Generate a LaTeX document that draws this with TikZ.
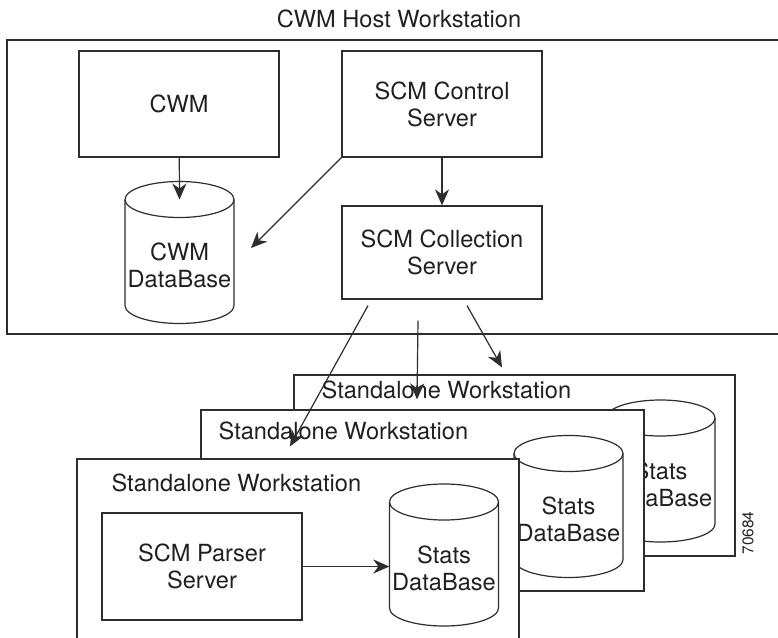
\documentclass[tikz,border=0pt]{standalone}
\usepackage{fontspec}
\setmainfont{TeX Gyre Heros}
\usepackage{tikz}
\usetikzlibrary{calc,arrows.meta,positioning}
\definecolor{hostLine}{RGB}{45,45,45}
\definecolor{hostText}{RGB}{35,31,32}

% stats / cwm database drum: name, x, y, label
\newcommand{\dbdrum}[4]{%
  \filldraw[boxline,fill=white] (#2-54.5,#3+53) -- (#2-54.5,#3-53)
    arc[start angle=180,end angle=360,x radius=54.5,y radius=18]
    -- (#2+54.5,#3+53)
    arc[start angle=0,end angle=180,x radius=54.5,y radius=18] -- cycle;
  \draw[boxline] (#2-54.5,#3+53) arc[start angle=180,end angle=360,x radius=54.5,y radius=18];
  \node[minimum width=109pt,minimum height=142pt] (#1) at (#2,#3) {};
  \coordinate (#1-top) at (#2,#3+53);
  \node[lbl] (#1-txt) at (#2,#3-13) {#4};
}

\begin{document}
\begin{tikzpicture}[x=1pt,y=1pt,
  boxline/.style={draw=hostLine,line width=1.2pt},
  lbl/.style={text=hostText,font=\fontsize{23.6}{27}\selectfont,align=center,inner sep=0pt},
  srvbox/.style={boxline,fill=white,minimum width=200pt,lbl},
  wsbox/.style={boxline,fill=white,inner sep=0pt},
  arr/.style={draw=hostLine,line width=1.2pt,-{Stealth[length=16pt,width=14pt,inset=5pt]}}]
\useasboundingbox (0,0) rectangle (778,-637);

% host workstation
\node[wsbox,minimum width=793pt,minimum height=294pt] (host) at (403.5,-187) {};
\node[lbl] (hosttitle) at (399,-19) {CWM Host Workstation};
\node[srvbox,minimum height=106pt] (cwm) at (179,-104) {CWM};
\node[srvbox,minimum height=106pt] (ctrl) at (442,-104) {SCM Control\\Server};
\node[srvbox,minimum height=93pt] (coll) at (442,-252.5) {SCM Collection\\Server};
\dbdrum{cwmdb}{179.5}{-252.5}{CWM\\DataBase}

% standalone workstations, back to front
\node[wsbox,minimum width=441pt,minimum height=181pt] (ws3) at (514.5,-465.5) {};
\node[lbl,anchor=west] (ws3lbl) at ([xshift=28pt,yshift=-15pt]ws3.north west) {Standalone Workstation};
\dbdrum{db3}{660.5}{-471}{Stats\\DataBase}
\node[wsbox,minimum width=443pt,minimum height=181pt] (ws2) at (422.5,-500.5) {};
\node[lbl,anchor=west] (ws2lbl) at ([xshift=18pt,yshift=-21pt]ws2.north west) {Standalone Workstation};
\dbdrum{db2}{568.5}{-506.5}{Stats\\DataBase}
\node[wsbox,minimum width=442pt,minimum height=201pt] (ws1) at (298,-559.5) {};
\node[lbl,anchor=west] (ws1lbl) at ([xshift=35pt,yshift=-24pt]ws1.north west) {Standalone Workstation};
\dbdrum{db1}{444}{-555}{Stats\\DataBase}
\node[srvbox,minimum height=107pt] (parser) at (202,-566.5) {SCM Parser\\Server};

% connectors
\coordinate (cwmdbside) at (251,-248);
\draw[arr] (cwm) -- (cwmdb-top);
\draw[arr] (ctrl) -- (coll);
\draw[arr] (ctrl.south west) -- (cwmdbside);
\draw[arr] ([xshift=-74pt,yshift=-6pt]coll.south) -- ([xshift=-8pt,yshift=12pt]ws1.north);
\draw[arr] ([xshift=-24pt,yshift=-21pt]coll.south) -- ([xshift=-5.5pt,yshift=10pt]ws2.north);
\draw[arr] ([xshift=25pt,yshift=-6pt]coll.south) -- ([xshift=-12.5pt,yshift=7pt]ws3.north);
\draw[arr] (parser.east) -- (parser.east -| db1.west);

\node[text=hostText,font=\fontsize{15.5}{18}\selectfont,rotate=90] (fignum) at (748,-533) {70684};
\end{tikzpicture}
\end{document}
